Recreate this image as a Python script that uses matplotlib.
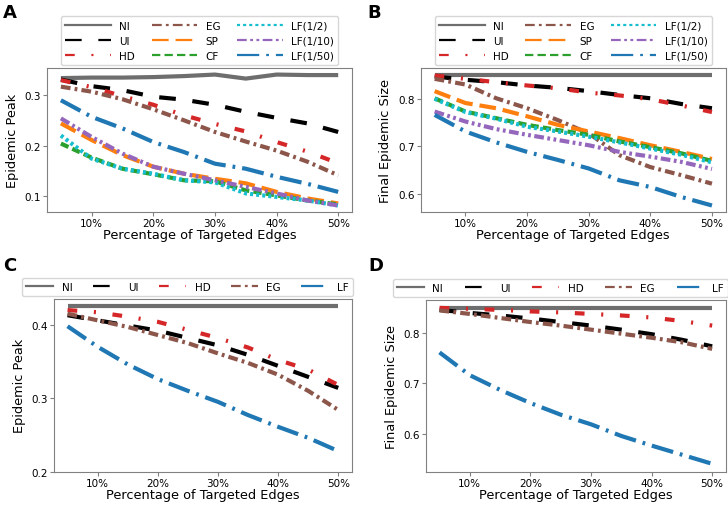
import numpy as np
import matplotlib
matplotlib.use('Agg')
from matplotlib import pyplot as plt
from matplotlib.lines import Line2D
from matplotlib.ticker import FuncFormatter

# percentage of targeted edges
x = [5, 10, 15, 20, 25, 30, 35, 40, 45, 50]

# panel A - epidemic peak
a_NI = [0.334, 0.335, 0.335, 0.336, 0.338, 0.341, 0.333, 0.341, 0.340, 0.340]
a_UI = [0.331, 0.318, 0.310, 0.297, 0.291, 0.281, 0.267, 0.255, 0.244, 0.227]
a_HD = [0.330, 0.316, 0.298, 0.281, 0.260, 0.243, 0.228, 0.207, 0.188, 0.165]
a_EG = [0.317, 0.307, 0.292, 0.272, 0.250, 0.227, 0.208, 0.190, 0.168, 0.141]
a_SP = [0.244, 0.211, 0.181, 0.158, 0.144, 0.134, 0.125, 0.108, 0.095, 0.085]
a_CF = [0.204, 0.176, 0.154, 0.143, 0.131, 0.129, 0.111, 0.101, 0.091, 0.083]
a_LF2 = [0.220, 0.174, 0.154, 0.144, 0.131, 0.127, 0.105, 0.098, 0.091, 0.081]
a_LF10 = [0.254, 0.217, 0.184, 0.158, 0.144, 0.131, 0.118, 0.105, 0.091, 0.081]
a_LF50 = [0.290, 0.257, 0.234, 0.207, 0.187, 0.164, 0.154, 0.138, 0.124, 0.108]

# panel B - final epidemic size
b_NI = [0.851, 0.851, 0.851, 0.851, 0.851, 0.851, 0.851, 0.851, 0.851, 0.851]
b_UI = [0.847, 0.840, 0.835, 0.828, 0.823, 0.816, 0.808, 0.801, 0.789, 0.780]
b_HD = [0.849, 0.842, 0.835, 0.828, 0.822, 0.813, 0.807, 0.799, 0.786, 0.772]
b_EG = [0.842, 0.830, 0.801, 0.780, 0.755, 0.727, 0.681, 0.656, 0.639, 0.621]
b_SP = [0.816, 0.791, 0.780, 0.763, 0.745, 0.731, 0.717, 0.702, 0.688, 0.673]
b_CF = [0.801, 0.773, 0.759, 0.745, 0.734, 0.724, 0.710, 0.698, 0.685, 0.669]
b_LF2 = [0.800, 0.772, 0.758, 0.741, 0.731, 0.720, 0.708, 0.695, 0.682, 0.666]
b_LF10 = [0.773, 0.752, 0.736, 0.724, 0.713, 0.702, 0.688, 0.678, 0.667, 0.652]
b_LF50 = [0.766, 0.731, 0.708, 0.688, 0.671, 0.653, 0.628, 0.614, 0.593, 0.575]

# panel C - epidemic peak
c_NI = [0.425, 0.425, 0.425, 0.425, 0.425, 0.425, 0.425, 0.425, 0.425, 0.425]
c_UI = [0.413, 0.406, 0.399, 0.392, 0.382, 0.372, 0.359, 0.344, 0.329, 0.314]
c_HD = [0.420, 0.417, 0.411, 0.404, 0.393, 0.382, 0.369, 0.352, 0.339, 0.318]
c_EG = [0.415, 0.406, 0.397, 0.386, 0.375, 0.361, 0.348, 0.332, 0.310, 0.284]
c_LF = [0.398, 0.370, 0.346, 0.326, 0.310, 0.295, 0.277, 0.261, 0.246, 0.228]

# panel D - final epidemic size
d_NI = [0.849, 0.849, 0.849, 0.849, 0.849, 0.849, 0.849, 0.849, 0.849, 0.849]
d_UI = [0.845, 0.839, 0.834, 0.828, 0.821, 0.814, 0.806, 0.797, 0.786, 0.773]
d_HD = [0.849, 0.847, 0.845, 0.842, 0.840, 0.837, 0.834, 0.830, 0.823, 0.814]
d_EG = [0.844, 0.837, 0.829, 0.821, 0.814, 0.806, 0.798, 0.790, 0.781, 0.768]
d_LF = [0.761, 0.716, 0.687, 0.661, 0.638, 0.619, 0.596, 0.577, 0.559, 0.541]

# line styles (dash patterns in points)
styles = {
    'NI': ('#6e6e6e', None),
    'UI': ('black', (12, 12)),
    'HD': ('#d62728', (7, 12, 1.5, 12)),
    'EG': ('#8c564b', (7, 3, 2, 3)),
    'SP': ('#ff7f0e', (12, 5)),
    'CF': ('#2ca02c', (6, 3)),
    'LF(1/2)': ('#17becf', (2.2, 2.2)),
    'LF(1/10)': ('#9467bd', (7, 2.5, 2, 2.5, 2, 2.5)),
    'LF(1/50)': ('#1f77b4', (16, 5, 2, 5)),
    'LF': ('#1f77b4', (16, 5, 2, 5)),
}

plt.rcParams['lines.scale_dashes'] = False
plt.rcParams['font.family'] = 'DejaVu Sans'

fig = plt.figure(figsize=(7.28, 5.06), dpi=100)


def draw(ax, series, ylabel):
    for name, vals in series:
        col, dash = styles[name]
        if dash is None:
            ax.plot(x, vals, color=col, lw=3, solid_capstyle='butt', label=name)
        else:
            ax.plot(x, vals, color=col, lw=3, dashes=dash, label=name)
    ax.set_xticks([10, 20, 30, 40, 50])
    ax.xaxis.set_major_formatter(FuncFormatter(lambda v, p: f"{v:.0f}%"))
    ax.set_xlabel('Percentage of Targeted Edges', fontsize=9.3, labelpad=0)
    ax.set_ylabel(ylabel, fontsize=9.3)
    ax.tick_params(labelsize=7.5, color='#808080', length=3, pad=1.5)
    for s in ax.spines.values():
        s.set_color('#808080')


def legend(ax, ncol, bbox, handlelength, mode=None):
    handles, labels = ax.get_legend_handles_labels()
    proxies = []
    for h in handles:
        p = Line2D([], [], color=h.get_color(), lw=1.6)
        name = h.get_label()
        if styles[name][1] is not None:
            p.set_dashes(styles[name][1])
        proxies.append(p)
    leg = ax.legend(proxies, labels, ncol=ncol, loc='lower left', bbox_to_anchor=bbox,
                    mode=mode, fontsize=7.5, handlelength=handlelength,
                    borderaxespad=0, columnspacing=1.6)
    return leg


axA = fig.add_axes([0.0646, 0.579, 0.419, 0.2846])
draw(axA, [('NI', a_NI), ('UI', a_UI), ('HD', a_HD), ('EG', a_EG), ('SP', a_SP),
           ('CF', a_CF), ('LF(1/2)', a_LF2), ('LF(1/10)', a_LF10), ('LF(1/50)', a_LF50)],
     'Epidemic Peak')
axA.set_yticks([0.1, 0.2, 0.3])
legend(axA, 3, (0.046, 1.02, 0.908, 0.34), 4.4, mode='expand')

axB = fig.add_axes([0.578, 0.579, 0.419, 0.2846])
draw(axB, [('NI', b_NI), ('UI', b_UI), ('HD', b_HD), ('EG', b_EG), ('SP', b_SP),
           ('CF', b_CF), ('LF(1/2)', b_LF2), ('LF(1/10)', b_LF10), ('LF(1/50)', b_LF50)],
     'Final Epidemic Size')
axB.set_yticks([0.6, 0.7, 0.8])
legend(axB, 3, (0.046, 1.02, 0.908, 0.34), 4.4, mode='expand')

axC = fig.add_axes([0.0742, 0.066, 0.409, 0.341])
draw(axC, [('NI', c_NI), ('UI', c_UI), ('HD', c_HD), ('EG', c_EG), ('LF', c_LF)],
     'Epidemic Peak')
axC.set_ylim(0.2, 0.435)
axC.set_yticks([0.2, 0.3, 0.4])
legend(axC, 5, (-0.107, 1.017, 1.11, 0.11), 2.6, mode='expand')

axD = fig.add_axes([0.585, 0.066, 0.412, 0.339])
draw(axD, [('NI', d_NI), ('UI', d_UI), ('HD', d_HD), ('EG', d_EG), ('LF', d_LF)],
     'Final Epidemic Size')
axD.set_yticks([0.6, 0.7, 0.8])
legend(axD, 5, (-0.11, 1.017, 1.117, 0.11), 2.6, mode='expand')

for lbl, xx, yy in [('A', 0.004, 0.965), ('B', 0.505, 0.965), ('C', 0.004, 0.465), ('D', 0.506, 0.465)]:
    fig.text(xx, yy, lbl, fontsize=13, fontweight='bold')

fig.savefig('out.png', dpi=100)
